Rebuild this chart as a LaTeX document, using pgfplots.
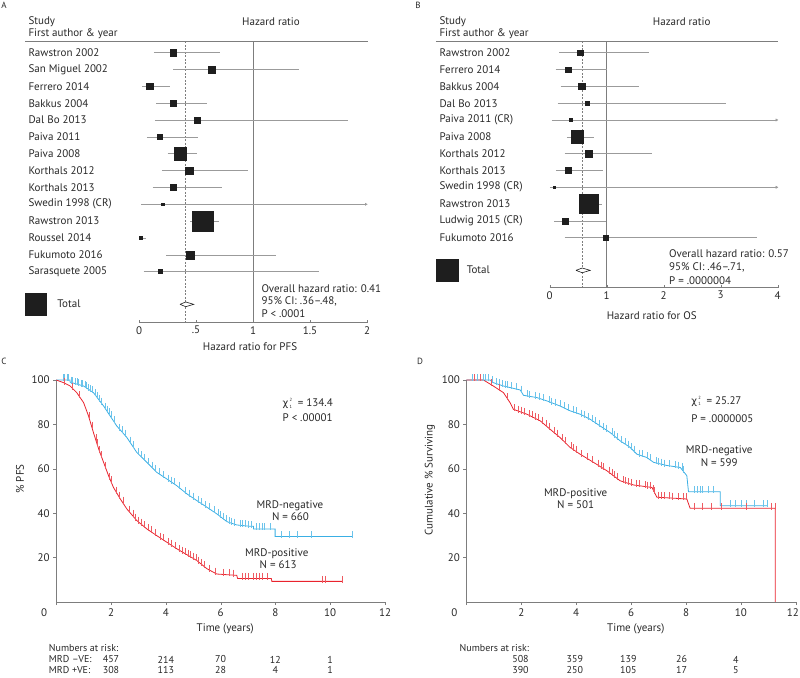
\documentclass[border=0pt]{standalone}
\usepackage{fontspec}
\setmainfont{PT Sans}
\newfontfamily\grk{DejaVu Sans}
\usepackage{pgfplots}
\usepackage{pgfplotstable}
\pgfplotsset{compat=1.18}
\definecolor{kmblue}{RGB}{58,175,228}
\definecolor{kmred}{RGB}{233,35,45}
\definecolor{axgray}{RGB}{125,125,125}
\definecolor{cigray}{RGB}{155,155,155}
\definecolor{txt}{RGB}{40,40,40}
\definecolor{sq}{RGB}{30,30,30}
\newcommand{\chisq}[1]{{\grk\fontsize{10}{12}\selectfont χ}\kern1.2pt\raisebox{-1.5pt}{\fontsize{4.5}{6}\selectfont\shortstack[l]{2\\1}}\ \ = #1}

\tikzset{risk/.style={font=\fontsize{10}{11}\selectfont, inner sep=0.5pt},
  tight/.style={inner sep=0.5pt}}
\pgfplotsset{
 forest/.style={scale only axis, clip=false, axis x line=bottom, axis y line=none,
   axis line style={axgray,-}, xtick style={axgray}, tick align=inside, major tick length=3pt,
   ytick=\empty, unbounded coords=jump, xticklabel style={text=txt}},
 km/.style={scale only axis, clip=false, xmin=0, xmax=12, ymin=0, ymax=100,
   axis x line=bottom, axis y line=left, axis line style={axgray,-}, tick style={axgray},
   tick align=outside, major tick length=3pt,
   xtick={0,2,4,6,8,10,12}, xticklabels={,2,4,6,8,10,12},
   ytick={20,40,60,80,100}, yticklabels={20,40,60,80,100},
   ticklabel style={text=txt}},
 sqmarks/.style={scatter, only marks, mark=square*, point meta=\thisrow{s},
   scatter/use mapped color={draw=sq, fill=sq},
   visualization depends on={\thisrow{s} \as \msz},
   scatter/@pre marker code/.append style={/tikz/mark size=\msz pt}},
 cens/.style={only marks, mark=|, mark size=3.5pt, mark options={line width=0.4pt, yshift=2pt}}
}

% Panel A data
\pgfplotstableread{
r hr s
-1 0.30 3.3
-2 0.64 3.5
-3 0.094 3.3
-4 0.30 3.3
-5 0.51 2.7
-6 0.18 2.5
-7 0.36 6.3
-8 0.44 3.7
-9 0.30 2.8
-10 0.21 1.3
-11 0.56 10.3
-12 0.012 1.5
-13 0.45 4.0
-14 0.19 2.0
}\pfsest
\pgfplotstableread{
x y
0.13 -1
0.71 -1
nan nan
0.30 -2
1.40 -2
nan nan
0.03 -3
0.27 -3
nan nan
0.15 -4
0.60 -4
nan nan
0.14 -5
1.83 -5
nan nan
0.07 -6
0.52 -6
nan nan
0.25 -7
0.51 -7
nan nan
0.20 -8
0.96 -8
nan nan
0.12 -9
0.73 -9
nan nan
0.02 -10
1.99 -10
nan nan
0.45 -11
0.70 -11
nan nan
0.0 -12
0.06 -12
nan nan
0.24 -13
1.20 -13
nan nan
0.04 -14
1.58 -14
}\pfsci

% Panel B data
\pgfplotstableread{
r hr s
-1 0.54 2.9
-2 0.32 2.8
-3 0.56 3.3
-4 0.66 2.3
-5 0.36 1.5
-6 0.48 6.3
-7 0.68 3.3
-8 0.32 2.9
-9 0.08 1.4
-10 0.68 9.5
-11 0.27 2.8
-12 0.98 2.7
}\osest
\pgfplotstableread{
x y
0.17 -1
1.75 -1
nan nan
0.105 -2
1.01 -2
nan nan
0.19 -3
1.57 -3
nan nan
0.14 -4
3.10 -4
nan nan
0.035 -5
3.98 -5
nan nan
0.30 -6
0.78 -6
nan nan
0.26 -7
1.80 -7
nan nan
0.11 -8
0.94 -8
nan nan
0.005 -9
3.98 -9
nan nan
0.53 -10
0.92 -10
nan nan
0.08 -11
0.98 -11
nan nan
0.26 -12
3.64 -12
}\osci

\begin{document}
\begin{tikzpicture}[font=\fontsize{11}{13}\selectfont, text=txt]
\useasboundingbox (0,0) rectangle (800pt,677pt);

% panel letters
\node[font=\fontsize{9}{10}\selectfont] at (4pt,672pt) {A};
\node[font=\fontsize{9}{10}\selectfont] at (418pt,672pt) {B};
\node[font=\fontsize{9}{10}\selectfont] at (4pt,315.3pt) {C};
\node[font=\fontsize{9}{10}\selectfont] at (420pt,315.3pt) {D};

%================ Panel A =================
\begin{axis}[forest, at={(139pt,354.3pt)}, anchor=south west, width=228pt, height=281.4pt,
  xmin=0, xmax=2, ymin=-17.03, ymax=-0.324,
  xtick={0,0.5,1,1.5,2}, xticklabels={0,.5,1,1.5,2}]
\addplot[axgray, line width=0.5pt] coordinates {(-1,-0.324) (2.01,-0.324)};
\addplot[axgray, line width=0.5pt] coordinates {(1,-0.324) (1,-17.03)};
\addplot[axgray, line width=0.5pt, dash pattern=on 2pt off 1.5pt] coordinates {(0.41,-0.324) (0.41,-17.03)};
\addplot[cigray, line width=0.5pt] table[x=x,y=y]{\pfsci};
\addplot[only marks, mark=triangle*, mark size=1.3pt, mark options={rotate=-90, fill=cigray, draw=cigray}] coordinates {(1.99,-10)};
\addplot[sqmarks] table[x=hr,y=r]{\pfsest};
\addplot[only marks, mark=square*, mark size=10.8pt, sq] coordinates {(-0.905,-15.93)};
\addplot[draw=sq, fill=white, line width=0.6pt] coordinates {(0.36,-15.94) (0.41,-15.80) (0.48,-15.94) (0.41,-16.08) (0.36,-15.94)};
\node[anchor=west] at (axis cs:-1,0.82) {Study};
\node[anchor=west] at (axis cs:-1,0.11) {First author \& year};
\node at (axis cs:1.158,0.82) {Hazard ratio};
\node[anchor=west] at (axis cs:-1,-1) {Rawstron 2002};
\node[anchor=west] at (axis cs:-1,-2) {San Miguel 2002};
\node[anchor=west] at (axis cs:-1,-3) {Ferrero 2014};
\node[anchor=west] at (axis cs:-1,-4) {Bakkus 2004};
\node[anchor=west] at (axis cs:-1,-5) {Dal Bo 2013};
\node[anchor=west] at (axis cs:-1,-6) {Paiva 2011};
\node[anchor=west] at (axis cs:-1,-7) {Paiva 2008};
\node[anchor=west] at (axis cs:-1,-8) {Korthals 2012};
\node[anchor=west] at (axis cs:-1,-9) {Korthals 2013};
\node[anchor=west] at (axis cs:-1,-10) {Swedin 1998 (CR)};
\node[anchor=west] at (axis cs:-1,-11) {Rawstron 2013};
\node[anchor=west] at (axis cs:-1,-12) {Roussel 2014};
\node[anchor=west] at (axis cs:-1,-13) {Fukumoto 2016};
\node[anchor=west] at (axis cs:-1,-14) {Sarasquete 2005};
\node[anchor=west] at (axis cs:-0.746,-15.88) {Total};
\node[anchor=west] at (axis cs:1.044,-15.03) {Overall hazard ratio: 0.41};
\node[anchor=west] at (axis cs:1.044,-15.76) {95\% CI: .36–.48,};
\node[anchor=west] at (axis cs:1.044,-16.47) {P < .0001};
\node at (axis cs:0.974,-18.47) {Hazard ratio for PFS};
\end{axis}

%================ Panel B =================
\begin{axis}[forest, at={(549.7pt,389.3pt)}, anchor=south west, width=228pt, height=246.4pt,
  xmin=0, xmax=4, ymin=-14.97, ymax=-0.322,
  xtick={0,1,2,3,4}, xticklabels={0,1,2,3,4}]
\addplot[axgray, line width=0.5pt] coordinates {(-1.995,-0.322) (4.01,-0.322)};
\addplot[axgray, line width=0.5pt] coordinates {(1,-0.322) (1,-14.97)};
\addplot[axgray, line width=0.5pt, dash pattern=on 2pt off 1.5pt] coordinates {(0.57,-0.322) (0.57,-14.97)};
\addplot[cigray, line width=0.5pt] table[x=x,y=y]{\osci};
\addplot[only marks, mark=triangle*, mark size=1.3pt, mark options={rotate=-90, fill=cigray, draw=cigray}] coordinates {(3.98,-5) (3.98,-9)};
\addplot[sqmarks] table[x=hr,y=r]{\osest};
\addplot[only marks, mark=square*, mark size=11pt, sq] coordinates {(-1.80,-13.94)};
\addplot[draw=sq, fill=white, line width=0.6pt] coordinates {(0.46,-13.94) (0.57,-13.80) (0.71,-13.94) (0.57,-14.08) (0.46,-13.94)};
\node[anchor=west] at (axis cs:-1.995,0.825) {Study};
\node[anchor=west] at (axis cs:-1.995,0.112) {First author \& year};
\node at (axis cs:2.316,0.825) {Hazard ratio};
\node[anchor=west] at (axis cs:-1.995,-1) {Rawstron 2002};
\node[anchor=west] at (axis cs:-1.995,-2) {Ferrero 2014};
\node[anchor=west] at (axis cs:-1.995,-3) {Bakkus 2004};
\node[anchor=west] at (axis cs:-1.995,-4) {Dal Bo 2013};
\node[anchor=west] at (axis cs:-1.995,-5) {Paiva 2011 (CR)};
\node[anchor=west] at (axis cs:-1.995,-6) {Paiva 2008};
\node[anchor=west] at (axis cs:-1.995,-7) {Korthals 2012};
\node[anchor=west] at (axis cs:-1.995,-8) {Korthals 2013};
\node[anchor=west] at (axis cs:-1.995,-9) {Swedin 1998 (CR)};
\node[anchor=west] at (axis cs:-1.995,-10) {Rawstron 2013};
\node[anchor=west] at (axis cs:-1.995,-11) {Ludwig 2015 (CR)};
\node[anchor=west] at (axis cs:-1.995,-12) {Fukumoto 2016};
\node[anchor=west] at (axis cs:-1.516,-13.88) {Total};
\node[anchor=west] at (axis cs:2.035,-12.93) {Overall hazard ratio: 0.57};
\node[anchor=west] at (axis cs:2.035,-13.78) {95\% CI: .46–.71,};
\node[anchor=west] at (axis cs:2.035,-14.55) {P = .0000004};
\node at (axis cs:1.79,-16.61) {Hazard ratio for OS};
\end{axis}

%================ Panel C =================
\begin{axis}[km, at={(56.2pt,75pt)}, anchor=south west, width=328.8pt, height=222pt]
\addplot[kmblue, line width=0.8pt] coordinates {
(0,100) (0.5,100) (0.51,99) (1.0,97.3) (1.36,94.3) (1.73,88.3) (1.97,83.8) (2.21,79.3)
(2.58,74.1) (2.94,67.4) (3.31,62.9) (3.67,58.4) (4.04,55.4) (4.40,52.4) (4.77,48.7)
(5.13,45.7) (5.50,42.7) (5.86,39.7) (6.23,36.2) (6.59,34.7) (7.08,34.1) (7.20,34.1)
(7.20,32.9) (7.99,32.9) (7.99,29.5) (10.79,29.5)};
\addplot[kmred, line width=0.8pt] coordinates {
(0,100) (0.27,98.8) (0.51,97.3) (0.75,94.3) (1.0,89.8) (1.18,83.8) (1.36,76.3) (1.55,68.9)
(1.73,62.9) (1.91,56.9) (2.09,51.6) (2.34,46.4) (2.58,41.9) (2.94,36.7) (3.31,32.9)
(3.67,29.9) (4.04,26.9) (4.40,24.0) (4.77,21.3) (5.13,18.7) (5.50,15.0) (5.86,12.6)
(6.59,12.0) (6.62,10.6) (7.85,10.6) (7.87,9.3) (10.43,9.3)};
\addplot[cens, kmblue!75] coordinates {
(0.25,100) (0.3,100) (0.4,100) (0.45,100) (0.55,98.9) (0.6,98.8) (0.68,98.4) (0.75,98.2)
(0.82,97.9) (0.9,97.6) (0.95,97.5) (1.05,96.9) (1.1,96.5) (1.18,95.8) (1.25,95.2) (1.3,94.8)
(1.42,93.3) (1.5,92) (1.58,90.7) (1.65,89.6) (1.78,87.1) (1.85,86) (1.92,84.7) (2.0,83.4)
(2.1,81.4) (2.3,77.8) (2.4,76.6) (2.5,75.2) (2.7,72) (2.8,70) (3.0,66.7) (3.1,65.5)
(3.2,64.2) (3.35,62.4) (3.5,60.6) (3.6,59.3) (3.75,57.8) (3.9,56.5) (4.1,54.9) (4.2,54)
(4.3,53.2) (4.5,51.4) (4.7,49.4) (4.85,48.1) (5.0,46.8) (5.2,45.1) (5.3,44.3) (5.45,43.1)
(5.6,41.9) (5.75,40.6) (5.9,39.3) (6.0,38.4) (6.1,37.4) (6.2,36.5) (6.3,35.9) (6.4,35.5)
(6.5,35.1) (6.7,34.5) (6.8,34.4) (6.9,34.3) (7.0,34.2) (7.1,34.1) (7.3,32.9) (7.4,32.9)
(7.5,32.9) (7.6,32.9) (7.8,32.9) (8.2,29.5) (8.5,29.5) (8.8,29.5) (9.3,29.5) (10.79,29.5)};
\addplot[cens, kmred!75] coordinates {
(0.3,98.6) (0.6,96.2) (0.85,92.5) (1.2,83) (1.3,78.8) (1.45,73) (1.5,70.9) (1.58,67.7)
(1.65,65.5) (1.8,60.6) (1.95,55.7) (2.0,54.2) (2.2,49.5) (2.3,47.2) (2.45,45) (2.65,40.9)
(2.8,39) (2.9,37.3) (3.0,36) (3.1,35.1) (3.2,34) (3.35,32.6) (3.45,31.8) (3.6,30.5)
(3.8,28.8) (3.9,28) (4.1,26.4) (4.2,25.6) (4.35,24.4) (4.5,23.2) (4.6,22.5) (4.7,21.8)
(4.8,21.1) (4.9,20.4) (5.0,19.6) (5.1,19) (5.2,18) (5.3,17) (5.4,16) (5.6,14.4) (5.8,13)
(6.1,12.4) (6.3,12.2) (6.45,12.1) (6.8,10.6) (6.9,10.6) (7.0,10.6) (7.2,10.6) (7.3,10.6)
(7.4,10.6) (7.5,10.6) (7.7,10.6) (9.7,9.3) (9.8,9.3) (10.43,9.3)};
\node at (axis cs:0,0) [xshift=-12pt, yshift=-11pt] {0};
\node at (axis cs:6.17,-11.85) {Time (years)};
\node[rotate=90] at (axis cs:-1.32,55.4) {\% PFS};
\node[tight, anchor=west] at (axis cs:8.24,89.3) {\chisq{134.4}};
\node[tight, anchor=west] at (axis cs:8.24,83.2) {P < .00001};
\node at (axis cs:8.53,43.4) {MRD-negative};
\node at (axis cs:8.55,38.4) {N = 660};
\node at (axis cs:8.05,21.9) {MRD-positive};
\node at (axis cs:8.1,16.9) {N = 613};
\node[risk, anchor=west] at (axis cs:-0.29,-20.9) {Numbers at risk:};
\node[risk, anchor=west] at (axis cs:-0.29,-25.9) {MRD –VE:};
\node[risk, anchor=west] at (axis cs:-0.29,-30.6) {MRD +VE:};
\node[risk] at (axis cs:2,-25.9) {457}; \node[risk] at (axis cs:4,-25.9) {214};
\node[risk] at (axis cs:6,-25.9) {70}; \node[risk] at (axis cs:8,-25.9) {12}; \node[risk] at (axis cs:10,-25.9) {1};
\node[risk] at (axis cs:2,-30.6) {308}; \node[risk] at (axis cs:4,-30.6) {113};
\node[risk] at (axis cs:6,-30.6) {28}; \node[risk] at (axis cs:8,-30.6) {4}; \node[risk] at (axis cs:10,-30.6) {1};
\end{axis}

%================ Panel D =================
\begin{axis}[km, at={(466.4pt,75pt)}, anchor=south west, width=329.4pt, height=222pt,
  xticklabels={,2,4,6,8,10,12\kern6pt}]
\addplot[kmblue, line width=0.8pt] coordinates {
(0,100) (0.86,100) (0.98,98.8) (1.35,97.3) (1.59,96.6) (1.96,95.5) (2.08,93.1) (2.56,92.1)
(2.93,90.6) (3.41,88.3) (3.78,86.1) (4.14,84.6) (4.51,82.3) (4.87,79.3) (5.24,76.3)
(5.60,72.6) (5.97,69.6) (6.21,66.6) (6.57,65.1) (6.82,62.9) (7.30,61.5) (7.79,60.6)
(8.03,56.9) (8.09,49.7) (9.25,49.7) (9.25,43.4) (10.95,43.4)};
\addplot[kmred, line width=0.8pt] coordinates {
(0,100) (0.62,100) (0.74,99.1) (0.98,97.3) (1.35,94.3) (1.59,89.8) (1.71,86.8) (2.20,84.6)
(2.69,81.6) (3.05,77.8) (3.41,74.1) (3.78,69.6) (4.14,66.6) (4.63,62.9) (5.12,59.1)
(5.60,54.6) (6.09,52.7) (6.76,51.6) (6.94,47.2) (8.03,46.4) (8.15,42.2) (11.25,42.2) (11.25,0)};
\addplot[cens, kmblue!75] coordinates {
(0.2,100) (0.3,100) (0.4,100) (0.5,100) (0.6,100) (0.7,100) (0.8,100) (0.95,99.1) (1.1,98.3)
(1.2,97.9) (1.3,97.5) (1.4,97.2) (1.5,96.9) (1.65,96.4) (1.8,96) (2.0,95) (2.2,92.8)
(2.3,92.6) (2.5,92.2) (2.65,91.8) (2.8,91.1) (3.0,90.3) (3.1,89.6) (3.25,89.1) (3.4,88.3)
(3.55,87.4) (3.7,86.6) (3.9,85.6) (4.0,85.2) (4.2,84.2) (4.3,83.6) (4.45,82.7) (4.6,81.6)
(4.7,80.8) (4.85,79.4) (5.0,78.2) (5.1,77.4) (5.3,75.7) (5.4,74.7) (5.5,73.6) (5.65,72.2)
(5.8,71.2) (5.9,70.2) (6.0,69.2) (6.1,68) (6.3,66.2) (6.4,65.8) (6.6,65) (6.7,64)
(6.9,62.7) (7.0,62.2) (7.1,62.1) (7.2,61.7) (7.4,61.3) (7.6,61) (7.7,60.8) (7.85,60.1)
(7.9,58.8) (8.3,49.7) (8.4,49.7) (8.5,49.7) (8.6,49.7) (8.8,49.7) (9.0,49.7) (9.6,43.4)
(9.8,43.4) (10.0,43.4) (10.2,43.4) (10.5,43.4) (10.8,43.4) (10.95,43.4)};
\addplot[cens, kmred!75] coordinates {
(0.3,100) (0.5,100) (0.9,97.9) (1.2,95.5) (1.5,91.5) (1.75,86.6) (1.9,86) (2.0,85.5)
(2.1,85) (2.3,84) (2.4,83.4) (2.5,82.8) (2.6,82.1) (2.75,81) (2.9,79.4) (3.0,78.3)
(3.2,76.3) (3.3,75.2) (3.5,73) (3.6,71.8) (3.8,69.5) (3.9,68.6) (4.0,68) (4.2,66.1)
(4.4,64.7) (4.6,63.1) (4.8,61.6) (4.9,60.8) (5.0,60) (5.2,58.5) (5.3,57.5) (5.4,56.6)
(5.5,55.7) (5.7,54.2) (5.8,53.8) (5.9,53.4) (6.0,53) (6.2,52.5) (6.3,52.4) (6.5,52)
(6.6,51.8) (6.7,51.7) (6.8,50) (6.85,49.3) (7.0,47.2) (7.1,47.1) (7.2,47) (7.4,46.9)
(7.5,46.8) (7.7,46.7) (7.9,46.5) (8.0,46.4) (8.3,42.2) (8.6,42.2) (8.9,42.2) (9.3,42.2)
(10.2,42.2) (11.1,42.2) (11.25,42.2)};
\node at (axis cs:0,0) [xshift=-12pt, yshift=-11pt] {0};
\node at (axis cs:6.17,-11.85) {Time (years)};
\node[rotate=90] at (axis cs:-1.33,55) {Cumulative \% Surviving};
\node[tight, anchor=west] at (axis cs:8.17,90.3) {\chisq{25.27}};
\node[tight, anchor=west] at (axis cs:8.17,82.6) {P = .0000005};
\node at (axis cs:9.21,68.2) {MRD-negative};
\node at (axis cs:9.21,62.7) {N = 599};
\node at (axis cs:3.98,49) {MRD-positive};
\node at (axis cs:3.98,44) {N = 501};
\node[risk, anchor=west] at (axis cs:-0.27,-20.9) {Numbers at risk:};
\node[risk] at (axis cs:1.97,-25.9) {508}; \node[risk] at (axis cs:3.95,-25.9) {359};
\node[risk] at (axis cs:5.90,-25.9) {139}; \node[risk] at (axis cs:7.84,-25.9) {26}; \node[risk] at (axis cs:9.82,-25.9) {4};
\node[risk] at (axis cs:1.97,-30.6) {390}; \node[risk] at (axis cs:3.95,-30.6) {250};
\node[risk] at (axis cs:5.90,-30.6) {105}; \node[risk] at (axis cs:7.84,-30.6) {17}; \node[risk] at (axis cs:9.82,-30.6) {5};
\end{axis}
\end{tikzpicture}
\end{document}
